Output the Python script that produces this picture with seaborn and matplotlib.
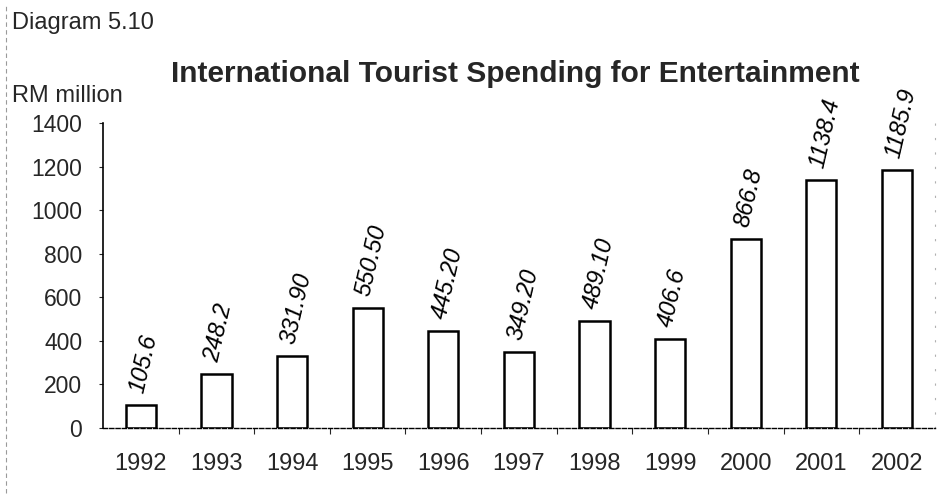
import matplotlib
matplotlib.use("Agg")
import matplotlib.pyplot as plt
import seaborn as sns
import pandas as pd
from matplotlib.lines import Line2D
from matplotlib.ticker import FixedLocator

years = ["1992", "1993", "1994", "1995", "1996", "1997", "1998", "1999", "2000", "2001", "2002"]
spending = [105.6, 248.2, 331.90, 550.50, 445.20, 349.20, 489.10, 406.6, 866.8, 1138.4, 1185.9]
value_labels = ["105.6", "248.2", "331.90", "550.50", "445.20", "349.20", "489.10", "406.6",
                "866.8", "1138.4", "1185.9"]
y_ticks = [0, 200, 400, 600, 800, 1000, 1200, 1400]

sns.set_style("white")
plt.rcParams["font.family"] = ["Liberation Sans", "DejaVu Sans"]

df = pd.DataFrame({"year": years, "spending": spending})

fig = plt.figure(figsize=(9.49, 5.03), dpi=100)
ax = fig.add_axes([0.1085, 0.149, 0.8765, 0.6065])

sns.barplot(data=df, x="year", y="spending", color="white", saturation=1,
            edgecolor="black", linewidth=1.8, width=0.4, ax=ax)

ax.set_ylim(0, 1400)
ax.set_xlim(-0.5, len(years) - 0.5)
ax.set_yticks(y_ticks)
ax.set_yticklabels([str(t) for t in y_ticks], fontsize=16.5)
ax.set_xticks(range(len(years)))
ax.set_xticklabels(years, fontsize=17)
ax.xaxis.set_minor_locator(FixedLocator([i + 0.5 for i in range(len(years) - 1)]))
ax.tick_params(axis="x", which="major", length=0, pad=18)
ax.tick_params(axis="x", which="minor", length=4, width=0.8, direction="out", bottom=True)
ax.tick_params(axis="y", length=3, width=0.8, pad=12, left=True)
ax.set_xlabel("")
ax.set_ylabel("")

ax.spines["top"].set_visible(False)
ax.spines["right"].set_color("#b0b0b0")
ax.spines["right"].set_linewidth(0.8)
ax.spines["right"].set_linestyle((0, (1, 12)))
ax.spines["left"].set_color("black")
ax.spines["left"].set_linewidth(1.2)
ax.spines["bottom"].set_color("black")
ax.spines["bottom"].set_linewidth(1.0)
ax.spines["bottom"].set_linestyle((0, (3, 1.5)))

for i, (v, lab) in enumerate(zip(spending, value_labels)):
    ax.annotate(lab, xy=(i, v), xytext=(-3, 9), textcoords="offset points",
                rotation=77, rotation_mode="anchor", ha="left", va="center",
                fontsize=17, fontstyle="italic", color="black")

fig.text(0.013, 0.955, "Diagram 5.10", fontsize=17, ha="left", va="center")
fig.text(0.013, 0.81, "RM million", fontsize=17, ha="left", va="center")
fig.text(0.543, 0.852, "International Tourist Spending for Entertainment",
         fontsize=21.5, fontweight="bold", ha="center", va="center")

# thin dashed rule along the left page edge
fig.add_artist(Line2D([0.006, 0.006], [0.02, 0.99], transform=fig.transFigure,
                      color="#9a9a9a", linewidth=0.8, linestyle=(0, (4, 3))))

fig.savefig("out.png", dpi=100)
